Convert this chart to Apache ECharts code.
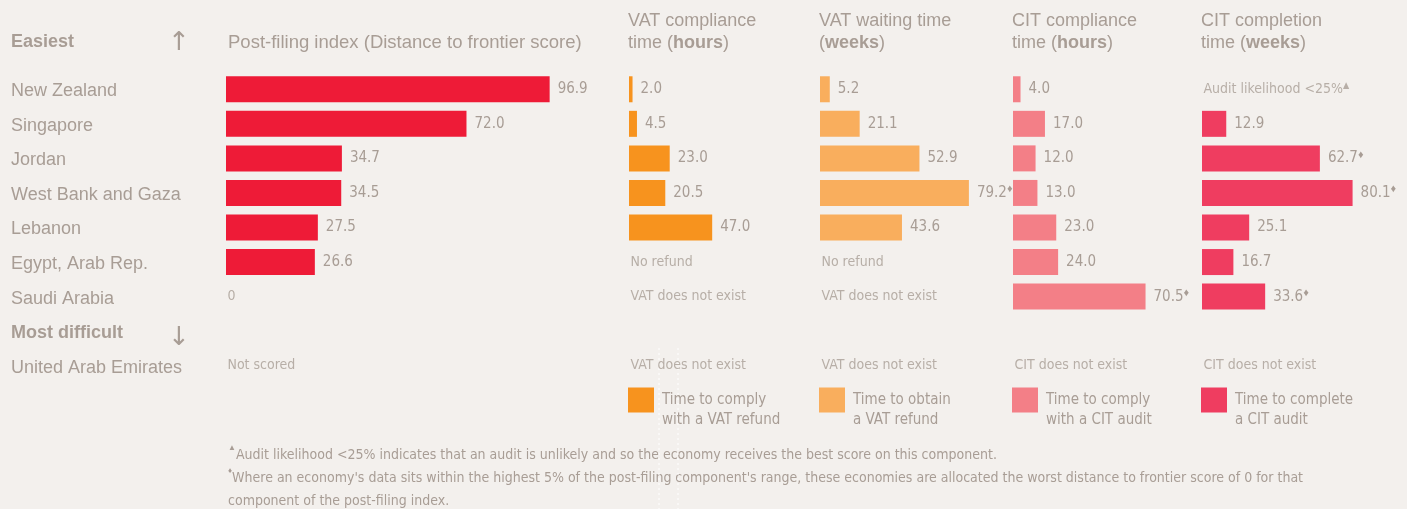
<!DOCTYPE html>
<html>
<head>
<meta charset="utf-8">
<title>Post-filing index</title>
<style>
  html, body { margin: 0; padding: 0; background: #f3f0ed; }
  #main { width: 1407px; height: 509px; }
</style>
</head>
<body>
<div id="main"></div>
<script src="https://cdn.jsdelivr.net/npm/echarts@6/dist/echarts.min.js"></script>
<script>
var economies = ['New Zealand', 'Singapore', 'Jordan', 'West Bank and Gaza', 'Lebanon',
    'Egypt, Arab Rep.', 'Saudi Arabia', 'Most difficult', 'United Arab Emirates'];

var postFiling = [96.9, 72.0, 34.7, 34.5, 27.5, 26.6, null, null, null];
var postFilingNotes = [null, null, null, null, null, null, '0', null, 'Not scored'];

var vatComplyHours = [2.0, 4.5, 23.0, 20.5, 47.0, null, null, null, null];
var vatComplyNotes = [null, null, null, null, null, 'No refund', 'VAT does not exist', null, 'VAT does not exist'];

var vatWaitWeeks = [5.2, 21.1, 52.9, 79.2, 43.6, null, null, null, null];
var vatWaitNotes = [null, null, null, null, null, 'No refund', 'VAT does not exist', null, 'VAT does not exist'];
var vatWaitTop5 = [3];

var citComplyHours = [4.0, 17.0, 12.0, 13.0, 23.0, 24.0, 70.5, null, null];
var citComplyNotes = [null, null, null, null, null, null, null, null, 'CIT does not exist'];
var citComplyTop5 = [6];

var citCompleteWeeks = [null, 12.9, 62.7, 80.1, 25.1, 16.7, 33.6, null, null];
var citCompleteNotes = ['Audit likelihood <25%{s|▲}', null, null, null, null, null, null, null, 'CIT does not exist'];
var citCompleteTop5 = [2, 3, 6];

var txt = '#a89d95';
var sans = '"Liberation Sans", Arial, sans-serif';
var narrow = '"Liberation Sans Narrow", "DejaVu Sans Condensed", sans-serif';

var columns = [
    {name: 'Post-filing index', values: postFiling, notes: postFilingNotes, top5: [],
     color: '#ee1b37', left: 226, width: 334},
    {name: 'Time to comply\nwith a VAT refund', values: vatComplyHours, notes: vatComplyNotes, top5: [],
     color: '#f7931e', left: 629, width: 177,
     head: '{n|VAT compliance}\n{n|time (}{b|hours}{n|)}'},
    {name: 'Time to obtain\na VAT refund', values: vatWaitWeeks, notes: vatWaitNotes, top5: vatWaitTop5,
     color: '#f9ae5d', left: 820, width: 188,
     head: '{n|VAT waiting time}\n{n|(}{b|weeks}{n|)}'},
    {name: 'Time to comply\nwith a CIT audit', values: citComplyHours, notes: citComplyNotes, top5: citComplyTop5,
     color: '#f37f87', left: 1013, width: 188,
     head: '{n|CIT compliance}\n{n|time (}{b|hours}{n|)}'},
    {name: 'Time to complete\na CIT audit', values: citCompleteWeeks, notes: citCompleteNotes, top5: citCompleteTop5,
     color: '#ef3d60', left: 1202, width: 188,
     head: '{n|CIT completion}\n{n|time (}{b|weeks}{n|)}'}
];

var grid = [], xAxis = [], yAxis = [], series = [], legend = [], graphic = [];

columns.forEach(function (col, k) {
    grid.push({left: col.left, top: 72, width: col.width, height: 311});
    xAxis.push({gridIndex: k, type: 'value', min: 0, max: 100, show: false});
    yAxis.push({
        gridIndex: k, type: 'category', data: economies, inverse: true,
        show: k === 0,
        axisLine: {show: false}, axisTick: {show: false}, splitLine: {show: false},
        axisLabel: {
            show: k === 0, align: 'left', margin: 215, color: txt,
            fontFamily: sans, fontSize: 18, padding: [4, 0, 0, 0],
            formatter: function (v) {
                return v === 'Most difficult' ? '{b|' + v + '}' : v;
            },
            rich: {b: {fontWeight: 'bold', fontSize: 18, fontFamily: sans, color: txt}}
        }
    });
    series.push({
        name: col.name, type: 'bar', xAxisIndex: k, yAxisIndex: k,
        data: col.values, barWidth: 26, silent: true,
        itemStyle: {color: col.color},
        label: {
            show: true, position: 'right', distance: 8,
            formatter: function (p) {
                var s = '{v|' + p.value.toFixed(1) + '}';
                if (col.top5.indexOf(p.dataIndex) >= 0) s += '{d|♦}';
                return s;
            },
            rich: {
                v: {color: txt, fontFamily: narrow, fontSize: 15},
                d: {color: txt, fontSize: 11, verticalAlign: 'top', padding: [0, 0, 7, 0]}
            }
        }
    });
    var noteData = [];
    col.notes.forEach(function (n, i) {
        if (n) noteData.push({value: [0, i], note: n});
    });
    series.push({
        type: 'scatter', xAxisIndex: k, yAxisIndex: k, silent: true,
        symbolSize: 1, itemStyle: {color: 'transparent'},
        data: noteData,
        label: {
            show: true, position: 'right', distance: 1,
            formatter: function (p) { return p.data.note; },
            color: txt, fontFamily: narrow, fontSize: 14,
            rich: {s: {color: txt, fontSize: 9, verticalAlign: 'top', padding: [0, 0, 7, 0]}}
        }
    });
    if (k > 0) {
        legend.push({
            data: [col.name], left: col.left - 6, top: 365,
            itemWidth: 26, itemHeight: 25, selectedMode: false, icon: 'rect',
            formatter: function (name) { return '\n' + name; },
            textStyle: {color: txt, fontFamily: narrow, fontSize: 15, lineHeight: 20, padding: [0, 0, 0, 3]}
        });
        graphic.push({
            type: 'text', left: col.left - 1, top: 12,
            style: {
                text: col.head, fill: txt,
                rich: {
                    n: {fontFamily: sans, fontSize: 18, lineHeight: 22, fill: txt},
                    b: {fontFamily: sans, fontSize: 18, lineHeight: 22, fontWeight: 'bold', fill: txt}
                }
            }
        });
    }
});

graphic.push(
    {type: 'text', left: 11, top: 33, style: {text: 'Easiest', fill: txt, font: 'bold 18px ' + sans}},
    {type: 'text', left: 168, top: 30, style: {text: '↑', fill: txt, font: '26px "DejaVu Sans", sans-serif'}},
    {type: 'text', left: 168, top: 325, style: {text: '↓', fill: txt, font: '26px "DejaVu Sans", sans-serif'}},
    {type: 'text', left: 228, top: 33, style: {text: 'Post-filing index (Distance to frontier score)', fill: txt, font: '18.5px ' + sans}},
    {
        type: 'text', left: 228, top: 444,
        style: {
            text: '{s|▲}{t|Audit likelihood <25% indicates that an audit is unlikely and so the economy receives the best score on this component.}\n' +
                  '{s|♦}{t|Where an economy\'s data sits within the highest 5% of the post-filing component\'s range, these economies are allocated the worst distance to frontier score of 0 for that}\n' +
                  '{t|component of the post-filing index.}',
            fill: txt,
            rich: {
                t: {fontFamily: narrow, fontSize: 14, lineHeight: 23, fill: txt},
                s: {fontSize: 8, lineHeight: 23, verticalAlign: 'top', fill: txt}
            }
        }
    },
    {type: 'line', shape: {x1: 659, y1: 348, x2: 659, y2: 509}, style: {stroke: '#ffffff', lineWidth: 1, lineDash: [2, 3]}},
    {type: 'line', shape: {x1: 678, y1: 348, x2: 678, y2: 509}, style: {stroke: '#ffffff', lineWidth: 1, lineDash: [2, 3]}}
);

var myChart = echarts.init(document.getElementById('main'));
var option = {
    backgroundColor: '#f3f0ed',
    animation: false,
    grid: grid,
    xAxis: xAxis,
    yAxis: yAxis,
    legend: legend,
    series: series,
    graphic: graphic
};
myChart.setOption(option);
</script>
</body>
</html>
